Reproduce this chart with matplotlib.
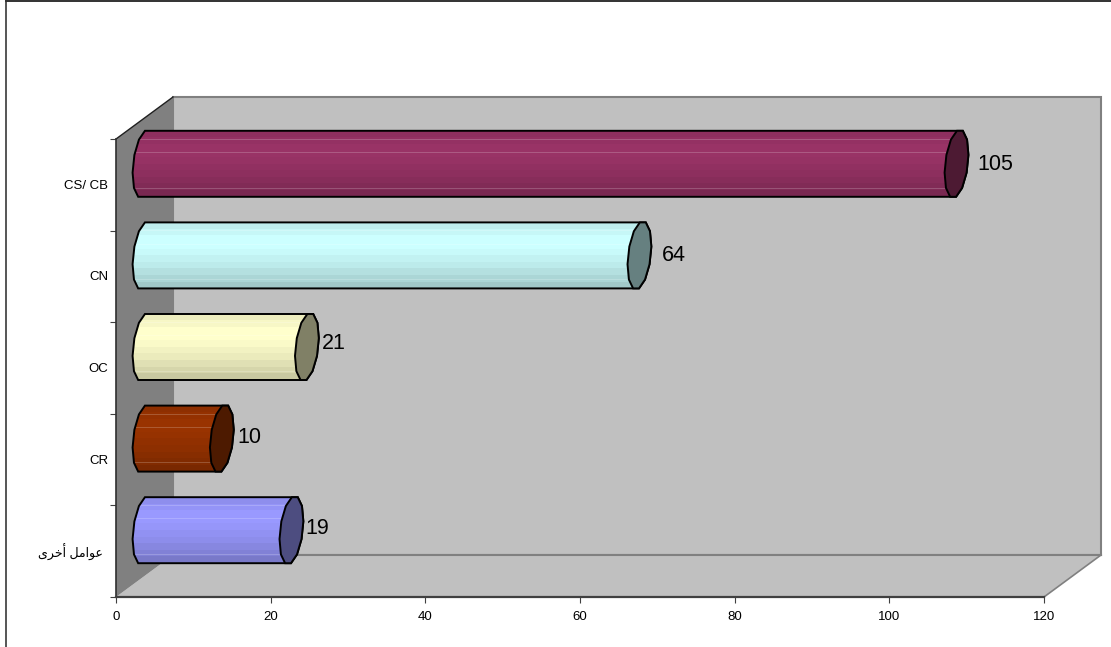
import matplotlib
matplotlib.use("Agg")
import matplotlib.pyplot as plt
import numpy as np
from matplotlib.lines import Line2D
from matplotlib.patches import Polygon

plt.rcParams['font.family'] = ['Liberation Sans', 'DejaVu Sans']

# bottom to top, as on the axis. arabic label is written in shaped visual order
# because matplotlib does not do the shaping itself
categories = ["\ufeef\ufeae\ufea7\ufe83 \ufede\ufee3\ufe8d\ufeee\ufecb", "CR", "OC", "CN", "CS/ CB"]
values = [19, 10, 21, 64, 105]
colors = ["#9999FF", "#993300", "#FFFFCC", "#CCFFFF", "#993366"]
cap_colors = ["#4D4D80", "#4D1A00", "#808066", "#668080", "#4D1A33"]
x_ticks = [0, 20, 40, 60, 80, 100, 120]
# band brightness, top of the cylinder to the bottom
shades = [0.93, 0.97, 1.0, 1.0, 0.98, 0.95, 0.92, 0.88, 0.84, 0.79]

# value label nudges in pixels, the labels do not sit evenly in the reference
label_gap = [2.5, 3.5, 3.5, 11, 8.5]
label_up = [1.8, 0.8, 3.8, -0.2, -1.2]

W, H = 1111, 647
PT = 72 / 100  # points per pixel
fig = plt.figure(figsize=(W / 100, H / 100), dpi=100)
# only the top and left of the outer frame show
fig.add_artist(Line2D([5.5 / W, 1], [1 - 0.8 / H, 1 - 0.8 / H], color="#202020", lw=1.8 * PT))
fig.add_artist(Line2D([5.5 / W, 5.5 / W], [0, 1], color="#303030", lw=1.6 * PT))

# front plane of the 3d box
ax = fig.add_axes([116 / W, 1 - 597 / H, 928 / W, 458 / H])
ax.set_xlim(0, 120)
ax.set_ylim(0, 5)
ax.patch.set_visible(False)
for s in ax.spines.values():
    s.set_visible(False)

px_x = 928 / 120
px_y = 458 / 5
# depth of the box in data units
dx = 57 / px_x
dy = 42 / px_y

# back wall, side wall, floor
ax.add_patch(Polygon([(dx, dy), (120 + dx, dy), (120 + dx, 5 + dy), (dx, 5 + dy)], closed=True,
                     fc="#C0C0C0", ec="#808080", lw=1.5, clip_on=False, zorder=1))
ax.add_patch(Polygon([(0, 0), (120, 0), (120 + dx, dy), (dx, dy)], closed=True,
                     fc="#C0C0C0", ec="none", clip_on=False, zorder=1.5))
ax.plot([dx, 120 + dx], [dy, dy], color="#808080", lw=1.5, clip_on=False, zorder=1.6)
ax.plot([120, 120 + dx], [0, dy], color="#808080", lw=1.2, clip_on=False, zorder=1.6)
ax.add_patch(Polygon([(0, 0), (dx, dy), (dx, 5 + dy), (0, 5)], closed=True,
                     fc="#808080", ec="none", clip_on=False, zorder=1.7))
ax.plot([0, dx], [5, 5 + dy], color="#202020", lw=1, clip_on=False, zorder=1.8)
ax.plot([0, 0], [0, 5], color="#303030", lw=1.2, clip_on=False, zorder=1.8)
ax.plot([0, 120], [0, 0], color="#404040", lw=1.6, clip_on=False, zorder=1.8)

# cylinders sit halfway into the box, caps are coarse leaning polygons
bar_h = 66 / px_y
cap_a = 11.4 / px_x
cap_s = 3.5 / px_x
t = np.radians(np.arange(15, 375, 30))
ex = cap_a * np.cos(t) + cap_s * np.sin(t)
ey = bar_h / 2 * np.sin(t) / np.sin(np.radians(75))
is_left = np.cos(t) < 0
for i, v in enumerate(values):
    yc = i + 0.5 + dy / 2
    x_end = v + dx / 2
    x_start = dx / 2
    # base side from the start ellipse, far side from the end ellipse
    body_x = np.where(is_left, x_start + ex, x_end + ex)
    body = Polygon(np.c_[body_x, yc + ey], closed=True, fc="none", ec="black", lw=1.4,
                   clip_on=False, zorder=4)
    ax.add_patch(body)
    band_h = bar_h / len(shades)
    rgb = np.array(matplotlib.colors.to_rgb(colors[i]))
    for j, sh in enumerate(shades):
        bars = ax.barh(yc + bar_h / 2 - (j + 0.5) * band_h, x_end - x_start + cap_a * 3, left=x_start - cap_a * 1.5,
                       height=band_h * 1.05, color=np.clip(rgb * sh, 0, 1), lw=0, zorder=3)
        bars[0].set_clip_box(None)
        bars[0].set_clip_path(body)
    # faint light seams across the bands
    for frac in [0.12, 0.32, 0.86]:
        seam = ax.plot([x_start - cap_a * 1.5, x_end + cap_a], [yc + bar_h / 2 - frac * bar_h] * 2,
                       color="white", alpha=0.2, lw=0.7, zorder=3.5)[0]
        seam.set_clip_box(None)
        seam.set_clip_path(body)
    ax.add_patch(Polygon(np.c_[x_end + ex, yc + ey], closed=True, fc=cap_colors[i], ec="black",
                         lw=1.4, clip_on=False, zorder=5))
    ax.annotate(str(v), (x_end + ex.max(), yc), xytext=(label_gap[i] * PT, label_up[i] * PT),
                textcoords="offset points", fontsize=15.5, va="center", ha="left",
                color="black", annotation_clip=False, zorder=6)

ax.set_xticks(x_ticks)
ax.set_yticks(np.arange(0, 6))
ax.set_yticklabels([])
ax.tick_params(axis="both", length=4.5, width=0.8, color="#404040", labelsize=9.5)
ax.tick_params(axis="x", pad=5.5)
# category names sit in the middle of each slot on the front plane
for i, c in enumerate(categories):
    pad = -13 if i == 0 else -8
    ax.annotate(c, (0, i + 0.5), xytext=(pad * PT, -1 * PT), textcoords="offset points",
                ha="right", va="center", fontsize=9 if i == 0 else 9.5, annotation_clip=False)

fig.savefig("out.png", dpi=100)
